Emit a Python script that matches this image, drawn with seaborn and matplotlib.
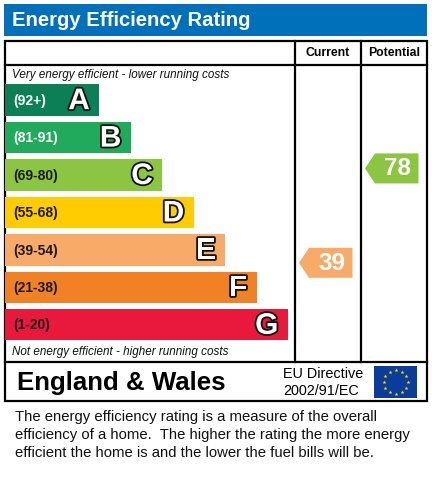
import matplotlib
matplotlib.use("Agg")
import matplotlib.pyplot as plt
import matplotlib.patheffects as pe
from matplotlib.patches import Rectangle, Polygon
import seaborn as sns
import numpy as np

# ---- data ----
bands = ["A", "B", "C", "D", "E", "F", "G"]
ranges = ["(92+)", "(81-91)", "(69-80)", "(55-68)", "(39-54)", "(21-38)", "(1-20)"]
range_lo = [92, 81, 69, 55, 39, 21, 1]
range_hi = [100, 91, 80, 68, 54, 38, 20]
bar_len = [3, 4, 5, 6, 7, 8, 9]
colors = ["#0c7f56", "#21aa5b", "#8cc541", "#ffcc02", "#f8ab68", "#f08124", "#e8193d"]
label_colors = ["white", "white", "#1a1a1a", "#1a1a1a", "#1a1a1a", "#1a1a1a", "#1a1a1a"]
current_value = 39
potential_value = 78
title = "Energy Efficiency Rating"
col_headers = ["Current", "Potential"]
top_note = "Very energy efficient - lower running costs"
bottom_note = "Not energy efficient - higher running costs"
region = "England & Wales"
directive = ["EU Directive", "2002/91/EC"]
paragraph = ["The energy efficiency rating is a measure of the overall",
             "efficiency of a home.  The higher the rating the more energy",
             "efficient the home is and the lower the fuel bills will be."]

plt.rcParams['font.family'] = ['Liberation Sans', 'DejaVu Sans']

W, H = 432, 480
fig = plt.figure(figsize=(W / 100, H / 100), dpi=100)
ax = fig.add_axes([0, 0, 1, 1])
ax.set_xlim(0, W)
ax.set_ylim(H, 0)
ax.axis("off")

# layout (pixels)
box_l, box_r, box_t, box_b = 4.5, 427, 41, 362
col1, col2 = 295, 361
hdr_b = 65
bar_top_px, pitch = 81.3, 37.45
unit = 31.44

# title bar
ax.add_patch(Rectangle((4, 4), 423, 31.5, color="#0070bb", lw=0))
ax.text(12, 20.5, title, color="white", fontsize=14.6, fontweight="bold", va="center", ha="left")

# frame
lw = 1.6
ax.add_patch(Rectangle((box_l, box_t), box_r - box_l, 401 - box_t, fill=False, ec="black", lw=lw))
ax.plot([box_l, box_r], [hdr_b, hdr_b], color="black", lw=lw)
ax.plot([box_l, box_r], [box_b, box_b], color="black", lw=lw)
for cx in (col1, col2):
    ax.plot([cx, cx], [box_t, box_b], color="black", lw=lw)
ax.text((col1 + col2) / 2, 53.5, col_headers[0], fontsize=8.8, fontweight="bold", ha="center", va="center")
ax.text((col2 + box_r) / 2, 53.5, col_headers[1], fontsize=8.8, fontweight="bold", ha="center", va="center")
ax.text(12, 75, top_note, fontsize=8.4, style="italic", ha="left", va="center", color="#111")
ax.text(12, 352, bottom_note, fontsize=8.4, style="italic", ha="left", va="center", color="#111")

# bars via seaborn
bx0, bx1 = 5, 295
by0 = bar_top_px
by1 = bar_top_px + 7 * pitch
bax = fig.add_axes([bx0 / W, 1 - by1 / H, (bx1 - bx0) / W, (by1 - by0) / H])
sns.barplot(x=bar_len, y=bands, hue=bands, palette=colors, orient="h", width=0.84,
            ax=bax, legend=False, saturation=1)
bax.set_xlim(0, (bx1 - bx0) / unit)
bax.set_ylim(6.5, -0.5)
bax.axis("off")
bax.patch.set_alpha(0)
for i, (b, r) in enumerate(zip(bands, ranges)):
    bax.text(0.26, i + 0.02, r, fontsize=10, fontweight="bold", color=label_colors[i], va="center", ha="left")
    bax.text(bar_len[i] - 0.3, i + 0.03, b, fontsize=21.5, fontweight="bold", color="white",
             va="center", ha="right",
             path_effects=[pe.withStroke(linewidth=2.6, foreground="#111")])

# rating arrows
def band_index(v):
    for i, (lo, hi) in enumerate(zip(range_lo, range_hi)):
        if lo <= v <= hi:
            return i
    return len(bands) - 1

def arrow(value, x_left, x_right):
    i = band_index(value)
    lo, hi = range_lo[i], range_hi[i]
    frac = ((lo + hi + 1) / 2 - value) / (hi - lo + 1)
    cy = bar_top_px + pitch * (i + 0.5) + frac * 26
    h = 30
    tip = x_left + 4
    rx0 = tip + 10
    rx1 = x_right - 8.5
    poly = Polygon([(tip, cy), (rx0, cy - h / 2), (rx1, cy - h / 2), (rx1, cy + h / 2), (rx0, cy + h / 2)],
                   closed=True, color=colors[i], lw=0)
    ax.add_patch(poly)
    ax.text((rx0 + rx1) / 2 + 1, cy + 0.5, str(value), color="white", fontsize=17.5, fontweight="bold",
            ha="center", va="center")

arrow(current_value, col1, col2)
arrow(potential_value, col2, box_r)

# bottom region
ax.text(17, 383, region, fontsize=18.6, fontweight="bold", ha="left", va="center")
ax.text(283, 374.5, directive[0], fontsize=10.4, ha="left", va="center")
ax.text(283, 391, directive[1], fontsize=10.4, ha="left", va="center")
# EU flag
ax.add_patch(Rectangle((374, 366), 43, 32, color="#0a3d9a", lw=0))
ang = np.linspace(0, 2 * np.pi, 13)[:-1]
ax.scatter(395.5 + 12 * np.cos(ang), 382 + 12 * np.sin(ang), marker="*", s=9, color="#f5e000", lw=0, zorder=5)

for k, line in enumerate(paragraph):
    ax.text(15, 417 + 18 * k, line, fontsize=10.75, ha="left", va="center", color="#111")

fig.savefig("out.png", dpi=100)
